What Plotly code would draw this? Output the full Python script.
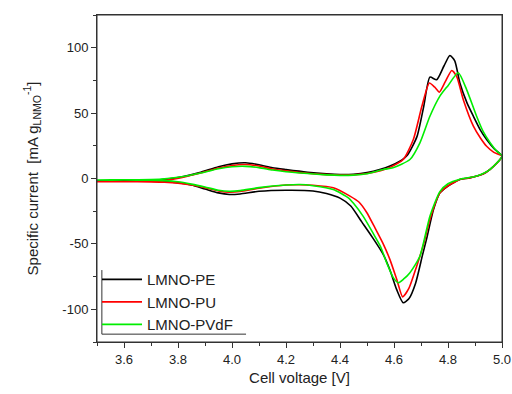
import plotly.graph_objects as go

# ---------------- data ----------------
series_names = ["LMNO-PE", "LMNO-PU", "LMNO-PVdF"]
series_colors = ["#000000", "#ff0000", "#00ee00"]

# LMNO-PE : anodic sweep (3.5 -> 5.0) then cathodic sweep (5.0 -> 3.5)
pe_v = [3.50, 3.60, 3.70, 3.76, 3.82, 3.88, 3.95, 4.00, 4.05, 4.10, 4.15, 4.20, 4.28, 4.35, 4.40, 4.45,
        4.50, 4.55, 4.585, 4.62, 4.65, 4.685, 4.71, 4.733, 4.758, 4.785, 4.807, 4.825, 4.844, 4.87,
        4.894, 4.92, 4.943, 4.97, 5.00,
        4.956, 4.93, 4.88, 4.844, 4.82, 4.795, 4.77, 4.746, 4.721, 4.705, 4.68, 4.655, 4.634, 4.61,
        4.585, 4.56, 4.52, 4.48, 4.44, 4.40, 4.35, 4.30, 4.20, 4.10, 4.03, 3.99, 3.95, 3.90, 3.85,
        3.80, 3.75, 3.70, 3.60, 3.50]
pe_i = [-2.0, -1.8, -1.4, -0.5, 1.5, 4.5, 9.0, 11.2, 12.0, 10.5, 8.2, 6.8, 4.8, 3.6, 3.1, 3.3,
        4.5, 7.0, 9.5, 13.0, 18.0, 32.0, 55.0, 77.5, 75.5, 86.0, 94.0, 90.0, 73.0, 58.0,
        47.6, 37.0, 29.8, 23.0, 17.0,
        6.9, 3.5, 0.5, -0.8, -3.3, -6.5, -11.0, -24.0, -46.0, -59.0, -80.0, -92.0, -95.0, -85.0,
        -70.0, -58.0, -45.0, -33.0, -21.0, -15.0, -11.5, -9.5, -9.0, -9.8, -11.8, -12.2, -11.0, -8.0, -5.0,
        -3.2, -2.4, -2.1, -2.0, -2.0]

# LMNO-PU
pu_v = [3.50, 3.60, 3.70, 3.76, 3.82, 3.88, 3.95, 4.00, 4.05, 4.10, 4.15, 4.20, 4.28, 4.35, 4.40, 4.45,
        4.50, 4.55, 4.585, 4.634, 4.672, 4.703, 4.731, 4.75, 4.768, 4.79, 4.814, 4.832, 4.857,
        4.894, 4.92, 4.943, 4.97, 5.00,
        4.956, 4.93, 4.88, 4.844, 4.82, 4.795, 4.77, 4.733, 4.71, 4.684, 4.655, 4.632, 4.61,
        4.585, 4.56, 4.53, 4.499, 4.47, 4.437, 4.375, 4.30, 4.25, 4.20, 4.10, 4.03, 3.99, 3.95, 3.90,
        3.85, 3.80, 3.75, 3.70, 3.60, 3.50]
pu_i = [-2.5, -2.4, -2.2, -1.2, 1.0, 4.0, 8.0, 10.0, 10.7, 9.5, 7.2, 5.8, 4.0, 3.0, 2.6, 2.8,
        3.8, 6.0, 8.5, 14.5, 30.0, 55.0, 73.0, 70.0, 66.0, 74.0, 82.6, 78.0, 60.0,
        40.0, 31.0, 24.7, 20.0, 17.0,
        6.9, 3.5, 0.5, -0.8, -3.3, -6.3, -11.0, -31.3, -50.0, -67.0, -84.0, -90.5, -77.0,
        -62.0, -50.0, -38.0, -26.0, -18.0, -13.5, -7.1, -5.2, -4.8, -5.0, -7.5, -10.0, -10.5, -9.5, -7.0,
        -5.0, -3.5, -2.8, -2.6, -2.5, -2.5]

# LMNO-PVdF
pv_v = [3.50, 3.60, 3.70, 3.76, 3.82, 3.88, 3.95, 4.00, 4.05, 4.10, 4.15, 4.20, 4.28, 4.35, 4.40, 4.45,
        4.50, 4.56, 4.596, 4.659, 4.696, 4.733, 4.77, 4.80, 4.838, 4.869, 4.906, 4.93, 4.956, 4.98, 5.00,
        4.956, 4.93, 4.90, 4.844, 4.80, 4.77, 4.733, 4.696, 4.659, 4.635, 4.616, 4.598, 4.573,
        4.55, 4.523, 4.486, 4.45, 4.431, 4.375, 4.30, 4.252, 4.20, 4.10, 4.03, 3.99, 3.95, 3.90,
        3.85, 3.80, 3.75, 3.70, 3.60, 3.50]
pv_i = [-1.2, -1.0, -0.8, 0.0, 1.5, 4.0, 7.5, 9.0, 9.3, 8.3, 6.5, 5.2, 3.8, 2.8, 2.4, 2.6,
        3.6, 6.9, 8.2, 14.5, 27.3, 47.6, 63.0, 71.0, 80.8, 68.0, 47.6, 36.0, 27.3, 21.0, 17.0,
        7.0, 3.8, 1.5, -0.5, -4.0, -10.0, -28.8, -59.4, -72.0, -77.0, -79.7, -76.0, -64.5,
        -52.0, -42.0, -29.0, -19.0, -14.8, -8.4, -5.5, -4.6, -5.0, -7.0, -9.3, -9.8, -9.0, -6.5,
        -4.3, -2.5, -1.6, -1.3, -1.2, -1.2]

x_tickvals = [3.6, 3.8, 4.0, 4.2, 4.4, 4.6, 4.8, 5.0]
x_ticktext = ["3.6", "3.8", "4.0", "4.2", "4.4", "4.6", "4.8", "5.0"]
y_tickvals = [-100, -50, 0, 50, 100]
y_ticktext = ["-100", "-50", "0", "50", "100"]

# ---------------- figure ----------------
FONT = "Liberation Sans, Arial, sans-serif"
INK = "#222222"
fig = go.Figure()
for name, color, v, i in zip(series_names, series_colors,
                             [pe_v, pu_v, pv_v], [pe_i, pu_i, pv_i]):
    fig.add_trace(go.Scatter(x=v, y=i, mode="lines", name=name,
                             line=dict(color=color, width=1.6, shape="spline", smoothing=0.6)))

axis_common = dict(showline=True, linecolor="#333333", linewidth=1, mirror=True,
                   ticks="outside", ticklen=5, tickwidth=1, tickcolor="#333333",
                   showgrid=False, zeroline=False, automargin=False,
                   tickfont=dict(family=FONT, size=13, color=INK))

fig.update_xaxes(range=[3.5, 5.0], tickvals=x_tickvals, ticktext=x_ticktext,
                 minor=dict(ticks="outside", ticklen=3, dtick=0.1, tick0=3.5, tickcolor="#333333"),
                 title=dict(text="Cell voltage [V]", font=dict(family=FONT, size=15, color=INK),
                            standoff=6),
                 **axis_common)
fig.update_yaxes(range=[-125, 125], tickvals=y_tickvals, ticktext=y_ticktext,
                 minor=dict(ticks="outside", ticklen=3, dtick=25, tick0=0, tickcolor="#333333"),
                 title=dict(text="Specific current  [mA g<sub>LNMO</sub><sup>-1</sup>]",
                            font=dict(family=FONT, size=15, color=INK), standoff=20),
                 **axis_common)

# plot frame
fig.add_shape(type="rect", xref="paper", yref="paper", x0=0, x1=1, y0=0, y1=1,
              line=dict(color="#333333", width=1), layer="above")

# legend frame (left and bottom edges only)
lx0, ly0 = 0.012, 0.024
lx1, ly1 = 0.368, 0.22
fig.add_shape(type="line", xref="paper", yref="paper", x0=lx0, x1=lx0, y0=ly0, y1=ly1,
              line=dict(color="#333333", width=1))
fig.add_shape(type="line", xref="paper", yref="paper", x0=lx0, x1=lx1, y0=ly0, y1=ly0,
              line=dict(color="#333333", width=1))

fig.update_layout(
    width=512, height=394,
    margin=dict(l=97, r=10, t=15, b=52),
    paper_bgcolor="white", plot_bgcolor="white",
    showlegend=True,
    legend=dict(x=0.0, y=0.122, xanchor="left", yanchor="middle",
                bgcolor="rgba(0,0,0,0)", borderwidth=0,
                font=dict(family=FONT, size=15, color=INK),
                tracegroupgap=0, itemwidth=40),
)

fig.write_html("out.html", config={"displayModeBar": False},
               post_script="document.body.style.margin='0';document.body.style.overflow='hidden';")
